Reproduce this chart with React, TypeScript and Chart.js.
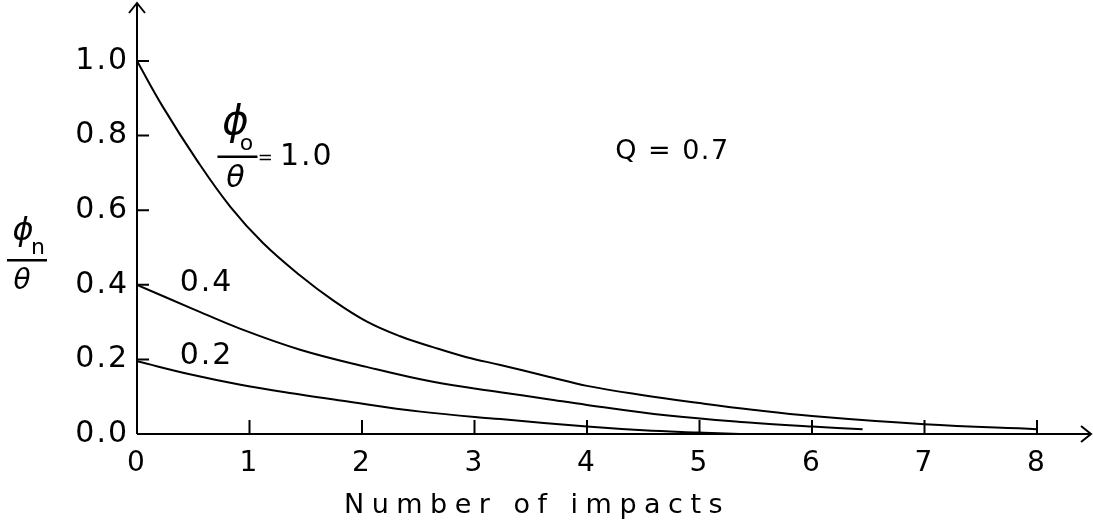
import React, { useEffect, useRef } from "react";
import { Chart, registerables } from "chart.js";

Chart.register(...registerables);

// ---- data ----
const xTicks = [0, 1, 2, 3, 4, 5, 6, 7, 8];
const yTicks = [0, 0.2, 0.4, 0.6, 0.8, 1.0];
const yTickLabels = ["0.0", "0.2", "0.4", "0.6", "0.8", "1.0"];
const seriesNames = ["1.0", "0.4", "0.2"];

const x10 = [0, 0.23, 0.53, 0.83, 1.12, 1.45, 1.74, 2.04, 2.34, 2.63, 2.93, 3.23, 3.64, 4.0, 4.5, 5.0, 5.47, 6.0, 7.0, 8.0];
const y10 = [1.0, 0.877, 0.735, 0.609, 0.512, 0.425, 0.359, 0.302, 0.262, 0.233, 0.206, 0.185, 0.155, 0.129, 0.104, 0.083, 0.065, 0.048, 0.026, 0.013];

const x04 = [0, 0.5, 0.92, 1.45, 2.04, 2.63, 3.23, 3.64, 4.0, 4.7, 5.47, 6.0, 6.45];
const y04 = [0.4, 0.335, 0.282, 0.226, 0.18, 0.14, 0.112, 0.094, 0.078, 0.05, 0.03, 0.02, 0.013];

const x02 = [0, 0.5, 0.92, 1.45, 1.81, 2.52, 3.23, 4.0, 4.5, 4.98, 5.36];
const y02 = [0.195, 0.158, 0.132, 0.106, 0.09, 0.06, 0.04, 0.02, 0.01, 0.004, 0.0];

const xTitle = "Number of impacts";
const qLabel = "Q = 0.7";

const FONT = '"DejaVu Sans", sans-serif';

function toPts(xs: number[], ys: number[]) {
  return xs.map((x, i) => ({ x, y: ys[i] }));
}

type FracOpts = {
  halfW: number;
  phiSize: number; phiDx: number; phiDy: number;
  subSize: number; subDx: number; subDy: number;
  thSize: number; thDx: number; thDy: number;
};

function drawFrac(ctx: CanvasRenderingContext2D, cx: number, lineY: number, sub: string, o: FracOpts) {
  ctx.save();
  ctx.letterSpacing = "0px";
  ctx.fillStyle = "#000";
  ctx.strokeStyle = "#000";
  ctx.textAlign = "center";
  ctx.textBaseline = "middle";
  ctx.font = `italic ${o.phiSize}px ${FONT}`;
  ctx.fillText("ϕ", cx + o.phiDx, lineY + o.phiDy);
  ctx.font = `${o.subSize}px ${FONT}`;
  ctx.fillText(sub, cx + o.subDx, lineY + o.subDy);
  ctx.font = `italic ${o.thSize}px ${FONT}`;
  ctx.fillText("θ", cx + o.thDx, lineY + o.thDy);
  ctx.lineWidth = 2.5;
  ctx.beginPath();
  ctx.moveTo(cx - o.halfW, lineY);
  ctx.lineTo(cx + o.halfW, lineY);
  ctx.stroke();
  ctx.restore();
}

const decorPlugin = {
  id: "decor",
  beforeDraw(chart: any) {
    chart.ctx.letterSpacing = "2px";
  },
  afterDraw(chart: any) {
    const ctx: CanvasRenderingContext2D = chart.ctx;
    const xs = chart.scales.x;
    const ys = chart.scales.y;
    const x0 = xs.getPixelForValue(0);
    const y0 = ys.getPixelForValue(0);
    ctx.save();
    ctx.strokeStyle = "#000";
    ctx.fillStyle = "#000";
    ctx.lineWidth = 2;
    ctx.lineCap = "butt";

    // x axis with arrow
    const xEnd = xs.getPixelForValue(8) + 54;
    ctx.beginPath();
    ctx.moveTo(x0, y0);
    ctx.lineTo(xEnd, y0);
    ctx.moveTo(xEnd - 10, y0 - 8);
    ctx.lineTo(xEnd, y0);
    ctx.lineTo(xEnd - 10, y0 + 8);
    ctx.stroke();

    // y axis with arrow
    const yEnd = 3;
    ctx.beginPath();
    ctx.moveTo(x0, y0);
    ctx.lineTo(x0, yEnd);
    ctx.moveTo(x0 - 8, yEnd + 10);
    ctx.lineTo(x0, yEnd);
    ctx.lineTo(x0 + 8, yEnd + 10);
    ctx.stroke();

    // inward ticks
    ctx.beginPath();
    xTicks.forEach((v) => {
      if (v === 0) return;
      const px = xs.getPixelForValue(v);
      ctx.moveTo(px, y0);
      ctx.lineTo(px, y0 - 14);
    });
    yTicks.forEach((v) => {
      if (v === 0) return;
      const py = ys.getPixelForValue(v);
      ctx.moveTo(x0, py);
      ctx.lineTo(x0 + 12, py);
    });
    ctx.stroke();

    // texts
    ctx.letterSpacing = "2px";
    ctx.textBaseline = "middle";
    ctx.textAlign = "left";
    ctx.font = `30px ${FONT}`;
    ctx.fillText(seriesNames[1], xs.getPixelForValue(0.38), ys.getPixelForValue(0.405));
    ctx.fillText(seriesNames[2], xs.getPixelForValue(0.38), ys.getPixelForValue(0.209));
    ctx.letterSpacing = "1.5px";
    ctx.font = `27px ${FONT}`;
    ctx.fillText(qLabel, xs.getPixelForValue(4.25), ys.getPixelForValue(0.756));

    // phi0/theta = 1.0
    const fx = xs.getPixelForValue(0.893);
    const fy = ys.getPixelForValue(0.743);
    drawFrac(ctx, fx, fy, "o", {
      halfW: 20,
      phiSize: 40, phiDx: -2, phiDy: -33,
      subSize: 22, subDx: 9, subDy: -13,
      thSize: 30, thDx: -2, thDy: 22,
    });
    ctx.letterSpacing = "0px";
    ctx.font = `18px ${FONT}`;
    ctx.textAlign = "center";
    ctx.fillText("=", xs.getPixelForValue(1.14), fy + 1);
    ctx.letterSpacing = "2px";
    ctx.textAlign = "left";
    ctx.font = `30px ${FONT}`;
    ctx.fillText(seriesNames[0], xs.getPixelForValue(1.27), fy);

    // y title
    drawFrac(ctx, 27, ys.getPixelForValue(0.466), "n", {
      halfW: 20,
      phiSize: 32, phiDx: -4, phiDy: -28,
      subSize: 22, subDx: 11, subDy: -12,
      thSize: 28, thDx: -5, thDy: 22,
    });

    // x title
    ctx.letterSpacing = "7.5px";
    ctx.textAlign = "center";
    ctx.font = `27px ${FONT}`;
    ctx.fillText(xTitle, xs.getPixelForValue(3.52) + 4, 506);
    ctx.restore();
  },
};

export default function App() {
  const ref = useRef<HTMLCanvasElement | null>(null);
  useEffect(() => {
    document.body.style.margin = "0";
    const canvas = ref.current;
    if (!canvas) return;
    const lineDs = (name: string, xs: number[], ys: number[]) => ({
      label: name,
      data: toPts(xs, ys),
      borderColor: "#000",
      backgroundColor: "#000",
      borderWidth: 2,
      pointRadius: 0,
      fill: false,
      tension: 0.4,
    });
    const chart = new Chart(canvas, {
      type: "line",
      data: {
        datasets: [
          lineDs(seriesNames[0], x10, y10),
          lineDs(seriesNames[1], x04, y04),
          lineDs(seriesNames[2], x02, y02),
        ],
      },
      options: {
        animation: false,
        responsive: true,
        maintainAspectRatio: false,
        layout: { padding: { top: 61, right: 56, left: 0, bottom: 0 } },
        plugins: { legend: { display: false }, tooltip: { enabled: false } },
        scales: {
          x: {
            type: "linear",
            min: 0,
            max: 8,
            grid: { display: false, drawTicks: false },
            border: { display: false },
            afterBuildTicks: (s: any) => {
              s.ticks = xTicks.map((v) => ({ value: v }));
            },
            afterFit: (s: any) => {
              s.height = 94;
            },
            ticks: {
              color: "#000",
              padding: 13,
              maxRotation: 0,
              autoSkip: false,
              font: { family: FONT, size: 28 },
              callback: (v: any) => String(v),
            },
          },
          y: {
            type: "linear",
            min: 0,
            max: 1,
            grid: { display: false, drawTicks: false },
            border: { display: false },
            afterBuildTicks: (s: any) => {
              s.ticks = yTicks.map((v) => ({ value: v }));
            },
            afterFit: (s: any) => {
              s.width = 137;
            },
            ticks: {
              color: "#000",
              padding: 8,
              autoSkip: false,
              font: { family: FONT, size: 30 },
              callback: (_v: any, i: number) => yTickLabels[i],
            },
          },
        },
      },
      plugins: [decorPlugin],
    });
    return () => chart.destroy();
  }, []);
  return (
    <div style={{ position: "relative", width: 1093, height: 528 }}>
      <canvas ref={ref} />
    </div>
  );
}
